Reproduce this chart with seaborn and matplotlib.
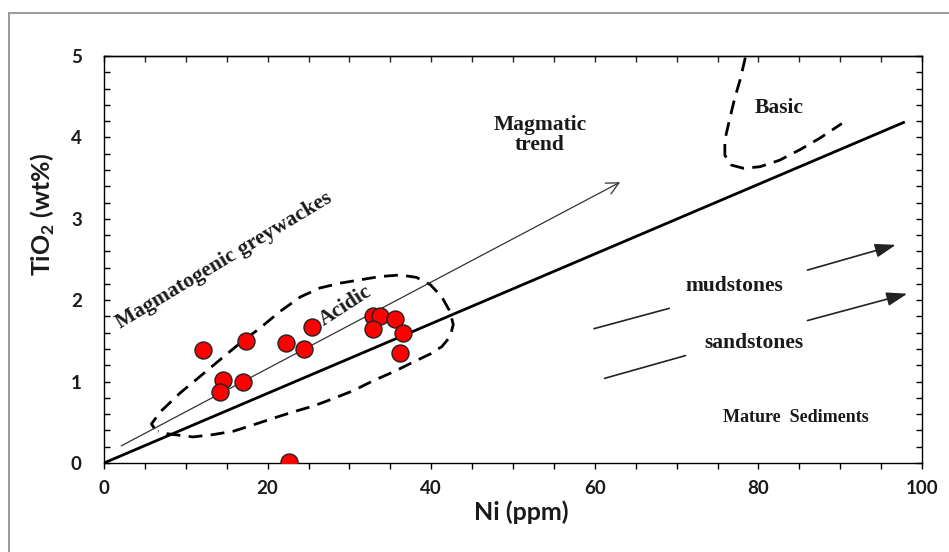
import matplotlib
matplotlib.use("Agg")
import matplotlib.pyplot as plt
from matplotlib.lines import Line2D
import seaborn as sns
import pandas as pd

# ---- data ----
ni = [12.1, 17.4, 14.6, 14.2, 17.0, 22.3, 24.4, 25.4, 32.9, 33.7, 32.9, 35.6, 36.5, 36.2, 22.6]
tio2 = [1.39, 1.50, 1.02, 0.87, 1.00, 1.47, 1.40, 1.67, 1.81, 1.80, 1.65, 1.77, 1.60, 1.35, 0.01]

acidic_x = [6.2, 5.8, 6.9, 9.3, 11.7, 14.2, 16.6, 19.1, 21.5, 24.0, 26.4, 28.9, 31.3, 33.7,
            36.2, 38.2, 39.9, 41.3, 42.3, 42.7, 42.3, 41.3, 39.9, 37.8, 35.4, 32.9, 30.5,
            28.0, 25.6, 23.2, 20.7, 18.3, 15.8, 13.4, 10.9, 9.3, 7.7, 6.6]
acidic_y = [0.42, 0.48, 0.63, 0.86, 1.06, 1.27, 1.47, 1.66, 1.86, 2.04, 2.15, 2.21, 2.25, 2.29,
            2.31, 2.28, 2.19, 2.04, 1.86, 1.70, 1.55, 1.43, 1.34, 1.24, 1.12, 1.01, 0.89,
            0.79, 0.70, 0.63, 0.55, 0.47, 0.39, 0.35, 0.32, 0.34, 0.36, 0.39]

basic_x = [78.4, 77.8, 77.1, 76.5, 75.9, 75.9, 76.7, 78.2, 80.2, 82.6, 85.1, 87.5, 90.2]
basic_y = [4.98, 4.72, 4.48, 4.23, 3.97, 3.78, 3.66, 3.62, 3.64, 3.72, 3.85, 3.99, 4.17]

boundary_x = [0, 97.9]
boundary_y = [0, 4.19]

trend_x = [2.1, 63.1]
trend_y = [0.21, 3.45]

mud_tail_x = [59.9, 69.1]
mud_tail_y = [1.65, 1.90]
mud_head_x = [86.0, 96.8]
mud_head_y = [2.37, 2.68]
sand_tail_x = [61.2, 71.1]
sand_tail_y = [1.04, 1.32]
sand_head_x = [86.0, 98.2]
sand_head_y = [1.75, 2.08]

x_ticks = [0, 20, 40, 60, 80, 100]
y_ticks = [0, 1, 2, 3, 4, 5]

# ---- style ----
sns.set_theme(style="ticks")
plt.rcParams["font.family"] = ["Lato", "DejaVu Sans"]
plt.rcParams["mathtext.fontset"] = "custom"
plt.rcParams["mathtext.bf"] = "Lato:bold"
plt.rcParams["mathtext.rm"] = "Lato:bold"

SERIF = ["Liberation Serif", "DejaVu Serif"]
TXT = "#1a1a1a"

fig = plt.figure(figsize=(9.49, 5.52), dpi=100)
ax = fig.add_axes([104 / 949, 1 - 463 / 552, 818 / 949, 407 / 552])

df = pd.DataFrame({"Ni": ni, "TiO2": tio2})

# envelopes and lines
ax.plot(acidic_x, acidic_y, color="black", lw=2.0, dashes=(5, 3), zorder=2,
        solid_joinstyle="round")
ax.plot(basic_x, basic_y, color="black", lw=2.0, dashes=(5, 3), zorder=2)
ax.plot(boundary_x, boundary_y, color="black", lw=2.0, zorder=2, solid_capstyle="butt")

ax.annotate("", xy=(trend_x[1], trend_y[1]), xytext=(trend_x[0], trend_y[0]),
            arrowprops=dict(arrowstyle="->", color="#333333", lw=0.9,
                            mutation_scale=22, shrinkA=0, shrinkB=0), zorder=2)

ax.plot(mud_tail_x, mud_tail_y, color="#222222", lw=1.2)
ax.plot(sand_tail_x, sand_tail_y, color="#222222", lw=1.2)
for hx, hy in [(mud_head_x, mud_head_y), (sand_head_x, sand_head_y)]:
    ax.annotate("", xy=(hx[1], hy[1]), xytext=(hx[0], hy[0]),
                arrowprops=dict(arrowstyle="-|>,head_length=0.9,head_width=0.3",
                                color="#222222", lw=1.2, mutation_scale=14,
                                shrinkA=0, shrinkB=0))

sns.scatterplot(data=df, x="Ni", y="TiO2", ax=ax, s=150, color="#ff0000",
                edgecolor="#222222", linewidth=1.0, zorder=4, legend=False)

# labels in the plot
ax.text(53.3, 4.03, "Magmatic\ntrend", family=SERIF, weight="bold", fontsize=15.5,
        color=TXT, ha="center", va="center", linespacing=1.05)
ax.text(82.6, 4.36, "Basic", family=SERIF, weight="bold", fontsize=15.5,
        color=TXT, ha="center", va="center")
ax.text(77.1, 2.17, "mudstones", family=SERIF, weight="bold", fontsize=15.5,
        color=TXT, ha="center", va="center")
ax.text(79.5, 1.48, "sandstones", family=SERIF, weight="bold", fontsize=15.5,
        color=TXT, ha="center", va="center")
ax.text(84.6, 0.56, "Mature  Sediments", family=SERIF, weight="bold", fontsize=13,
        color=TXT, ha="center", va="center")
ax.text(29.5, 1.93, "Acidic", family=SERIF, weight="bold", fontsize=15.5,
        color=TXT, ha="center", va="center", rotation=33, rotation_mode="anchor")
ax.text(14.7, 2.49, "Magmatogenic greywackes", family=SERIF, weight="bold", fontsize=15.5,
        color=TXT, ha="center", va="center", rotation=31, rotation_mode="anchor")

# axes
ax.set_xlim(0, 100)
ax.set_ylim(0, 5)
ax.set_xticks(x_ticks)
ax.set_yticks(y_ticks)
ax.set_xticks(range(0, 101, 5), minor=True)
ax.set_yticks([i * 0.2 for i in range(26)], minor=True)
ax.set_xticklabels([str(t) for t in x_ticks])
ax.set_yticklabels([str(t) for t in y_ticks])
for s in ax.spines.values():
    s.set_visible(True)
    s.set_color("black")
    s.set_linewidth(1.0)

ax.tick_params(axis="x", which="both", direction="out", length=4, width=1,
               top=False, bottom=True, pad=8, labelsize=13.5, colors="black")
ax.tick_params(axis="y", which="both", direction="in", length=4, width=1,
               left=True, right=True, pad=16, labelsize=13.5, colors="black")
for lab in ax.get_xticklabels() + ax.get_yticklabels():
    lab.set_fontweight("bold")
    lab.set_color(TXT)

top = ax.secondary_xaxis("top")
top.set_xticks(x_ticks)
top.set_xticks(range(0, 101, 5), minor=True)
top.tick_params(axis="x", which="both", direction="in", length=4, width=1,
                labeltop=False)
top.spines["top"].set_linewidth(1.0)

ax.set_xlabel("")
ax.set_ylabel("")
fig.text(521 / 949, 1 - 512 / 552, "Ni (ppm)", fontsize=18, weight="bold",
         color=TXT, ha="center", va="center")
fig.text(43 / 949, 1 - 214 / 552, r"TiO$_\mathbf{2}$ (wt%)", fontsize=18, weight="bold",
         color=TXT, ha="center", va="center", rotation=90)

# outer frame (left and top edges visible)
fig.add_artist(Line2D([8.5 / 949, 8.5 / 949], [0, 1 - 13 / 552],
                      transform=fig.transFigure, color="#9a9a9a", lw=1.4))
fig.add_artist(Line2D([8.5 / 949, 1], [1 - 13 / 552, 1 - 13 / 552],
                      transform=fig.transFigure, color="#9a9a9a", lw=1.4))

fig.savefig("out.png", dpi=100)
